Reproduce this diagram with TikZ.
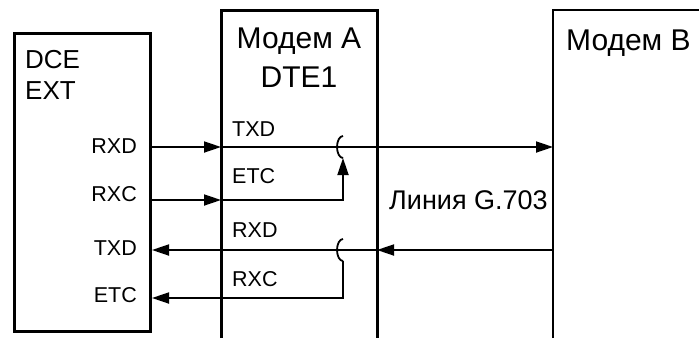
\documentclass[tikz,border=0pt]{standalone}
\usepackage{fontspec}
\setmainfont{Liberation Sans}
\usetikzlibrary{arrows.meta}
\begin{document}
\begin{tikzpicture}[x=1pt, y=-1pt,
  boxline/.style={line width=3pt},
  sig/.style={line width=1.8pt},
  tip/.style={-{Triangle[length=17pt,width=11pt]}},
  big/.style={font=\fontsize{30}{32}\selectfont, inner sep=0pt},
  mid/.style={font=\fontsize{26}{28}\selectfont, inner sep=0pt},
  pin/.style={font=\fontsize{21.5}{24}\selectfont, inner sep=0pt}]
\useasboundingbox (0,0) rectangle (699,338);
% boxes
\node[draw, boxline, anchor=north west, minimum width=136pt, minimum height=298pt] (dce) at (13,32) {};
\draw[boxline] (221,338) -- (221,10) -- (377,10) -- (377,338);
\draw[line width=2.4pt] (553,338) -- (553,10) -- (699,10);
% titles
\node[mid, anchor=base west] (dceName) at (25,68) {DCE};
\node[mid, anchor=base west] (dceExt) at (25,99) {EXT};
\node[big, anchor=base] (modA) at (299,48) {Модем A};
\node[big, anchor=base] (modAdte) at (299,87) {DTE1};
\node[big, anchor=base west] (modB) at (566,50) {Модем B};
\node[mid, anchor=base west, font=\fontsize{27}{28}\selectfont] (line) at (389,209) {Линия G.703};
% pin labels
\node[pin, anchor=base east] (dRxd) at (137,153) {RXD};
\node[pin, anchor=base east] (dRxc) at (137,201) {RXC};
\node[pin, anchor=base east] (dTxd) at (137,255) {TXD};
\node[pin, anchor=base east] (dEtc) at (137,302) {ETC};
\node[pin, anchor=base west] (aTxd) at (232,136) {TXD};
\node[pin, anchor=base west] (aEtc) at (232,183) {ETC};
\node[pin, anchor=base west] (aRxd) at (232,237) {RXD};
\node[pin, anchor=base west] (aRxc) at (232,286) {RXC};
% connection points
\coordinate (aIn1) at (221,147);
\coordinate (aIn2) at (221,200);
\coordinate (aOut3) at (377,250);
\coordinate (bIn1) at (553,147);
\coordinate (bOut3) at (553,250);
\coordinate (hop1) at (343,158);
\coordinate (hop2) at (343,261);
\coordinate (tap4) at (343,298);
% signals
\draw[sig, tip] (dce.east |- aIn1) -- (aIn1);
\draw[sig, tip] (aIn1) -- (bIn1);
\draw[sig, tip] (dce.east |- aIn2) -- (aIn2);
\draw[sig, tip] (aIn2) -| (hop1);
\draw[sig] (hop1) arc[start angle=90, end angle=270, x radius=6, y radius=11];
\draw[sig, tip] (bOut3) -- (aOut3);
\draw[sig, tip] (aOut3) -- (dce.east |- aOut3);
\draw[sig] (hop2) arc[start angle=90, end angle=270, x radius=6, y radius=11];
\draw[sig, tip] (hop2) -- (tap4) -- (dce.east |- tap4);
\end{tikzpicture}
\end{document}
